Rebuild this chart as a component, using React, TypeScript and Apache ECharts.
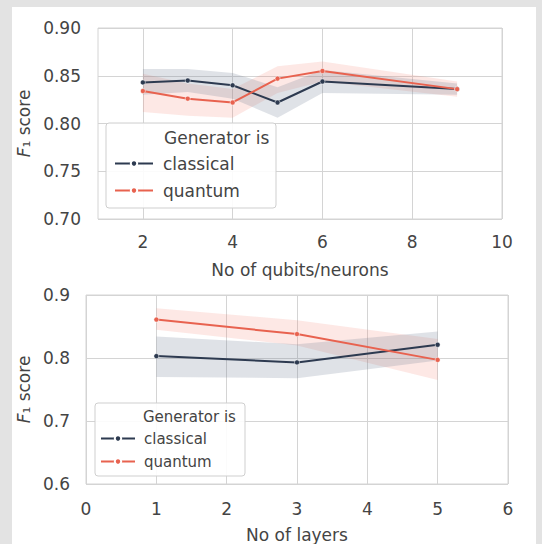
import React, { useEffect, useRef } from "react";
import * as echarts from "echarts";

// Top panel: F1 vs number of qubits/neurons
const topX = [2, 3, 4, 5, 6, 9];
const topClassical = [0.843, 0.845, 0.840, 0.822, 0.844, 0.836];
const topClassicalLo = [0.830, 0.833, 0.826, 0.806, 0.832, 0.830];
const topClassicalHi = [0.857, 0.857, 0.853, 0.838, 0.856, 0.842];
const topQuantum = [0.834, 0.826, 0.822, 0.847, 0.855, 0.836];
const topQuantumLo = [0.812, 0.808, 0.806, 0.832, 0.844, 0.828];
const topQuantumHi = [0.852, 0.842, 0.836, 0.860, 0.865, 0.844];
const topXTicks = [2, 4, 6, 8, 10];

// Bottom panel: F1 vs number of layers
const botX = [1, 3, 5];
const botClassical = [0.803, 0.793, 0.821];
const botClassicalLo = [0.770, 0.768, 0.796];
const botClassicalHi = [0.834, 0.822, 0.842];
const botQuantum = [0.861, 0.838, 0.797];
const botQuantumLo = [0.845, 0.820, 0.765];
const botQuantumHi = [0.879, 0.860, 0.830];

const seriesNames = ["classical", "quantum"];
const legendTitle = "Generator is";

const C_CLASSICAL = "#2d3a50";
const C_QUANTUM = "#e8624f";
const BAND_CLASSICAL = "rgba(110,122,145,0.22)";
const BAND_QUANTUM = "rgba(240,110,95,0.16)";
const FONT = "DejaVu Sans";
const TXT = "#444";

function pairs(xs: number[], ys: number[]) {
  return xs.map((x, i) => [x, ys[i]]);
}

function band(name: string, idx: number, xs: number[], lo: number[], hi: number[], color: string) {
  return {
    type: "custom",
    name: name + "-band",
    xAxisIndex: idx,
    yAxisIndex: idx,
    data: xs.map((x, i) => [x, lo[i], hi[i]]),
    encode: { x: 0, y: [1, 2] },
    silent: true,
    clip: true,
    z: 1,
    renderItem: (params: any, api: any) => {
      if (params.dataIndex !== 0) return { type: "group", children: [] };
      const upper = xs.map((x, i) => api.coord([x, hi[i]]));
      const lower = xs.map((x, i) => api.coord([x, lo[i]])).reverse();
      return {
        type: "polygon",
        shape: { points: upper.concat(lower) },
        style: { fill: color },
      };
    },
  };
}

function mainLine(name: string, idx: number, xs: number[], ys: number[], color: string) {
  return {
    type: "line",
    name,
    xAxisIndex: idx,
    yAxisIndex: idx,
    data: pairs(xs, ys),
    symbol: "circle",
    symbolSize: 5,
    showSymbol: true,
    lineStyle: { color, width: 2 },
    itemStyle: { color, borderColor: "#fff", borderWidth: 0.5 },
    z: 3,
  };
}

export default function App() {
  const ref = useRef<HTMLDivElement>(null);
  useEffect(() => {
    if (!ref.current) return;
    const chart = echarts.init(ref.current, null, { renderer: "svg" });
    const axisCommon = {
      axisLine: { show: false },
      axisTick: { show: false },
      splitLine: { show: true, lineStyle: { color: "#d4d4d4", width: 1 } },
    };
    const labelStyle = { color: TXT, fontFamily: FONT, fontSize: 17 };
    const yName = "{f|F}₁ score";
    const yNameStyle = {
      color: TXT,
      fontFamily: FONT,
      fontSize: 17,
      rich: { f: { fontStyle: "italic", fontFamily: FONT, fontSize: 17, color: TXT } },
    };
    chart.setOption({
      animation: false,
      backgroundColor: "#e3e3e3",
      textStyle: { fontFamily: FONT },
      graphic: [
        { type: "rect", shape: { x: 12, y: 7, width: 524, height: 537 }, style: { fill: "#ffffff" }, z: -10 },
        { type: "rect", shape: { x: 106, y: 123, width: 170, height: 85, r: 3 }, style: { fill: "rgba(255,255,255,0.9)", stroke: "#cfcfcf", lineWidth: 1 }, z: 5 },
        { type: "text", x: 164, y: 138, style: { text: legendTitle, fill: TXT, font: `17px "${FONT}"`, textVerticalAlign: "middle" }, z: 6 },
        { type: "rect", shape: { x: 95, y: 403, width: 150, height: 73, r: 3 }, style: { fill: "rgba(255,255,255,0.9)", stroke: "#cfcfcf", lineWidth: 1 }, z: 5 },
        { type: "text", x: 143, y: 417, style: { text: legendTitle, fill: TXT, font: `15px "${FONT}"`, textVerticalAlign: "middle" }, z: 6 },
      ],
      legend: [
        {
          data: seriesNames,
          orient: "vertical",
          left: 114,
          top: 155,
          itemWidth: 38,
          itemHeight: 8,
          itemGap: 10,
          padding: 0,
          textStyle: { color: TXT, fontFamily: FONT, fontSize: 17, padding: [0, 0, 0, 5] },
          z: 7,
        },
        {
          data: seriesNames,
          orient: "vertical",
          left: 100,
          top: 431,
          itemWidth: 34,
          itemHeight: 8,
          itemGap: 8,
          padding: 0,
          textStyle: { color: TXT, fontFamily: FONT, fontSize: 15, padding: [0, 0, 0, 4] },
          z: 7,
        },
      ],
      grid: [
        { left: 98, top: 28, width: 404, height: 191, show: true, borderColor: "#d4d4d4", borderWidth: 1, backgroundColor: "#fff" },
        { left: 86, top: 295, width: 422, height: 189, show: true, borderColor: "#d4d4d4", borderWidth: 1, backgroundColor: "#fff" },
      ],
      xAxis: [
        {
          type: "value",
          gridIndex: 0,
          min: 1,
          max: 10,
          ...axisCommon,
          axisTick: { show: false, customValues: topXTicks },
          axisLabel: { ...labelStyle, margin: 14, customValues: topXTicks },
          name: "No of qubits/neurons",
          nameLocation: "middle",
          nameGap: 42,
          nameTextStyle: { ...labelStyle, verticalAlign: "top" },
        },
        {
          type: "value",
          gridIndex: 1,
          min: 0,
          max: 6,
          interval: 1,
          ...axisCommon,
          axisLabel: { ...labelStyle, margin: 16 },
          name: "No of layers",
          nameLocation: "middle",
          nameGap: 42,
          nameTextStyle: { ...labelStyle, verticalAlign: "top" },
        },
      ],
      yAxis: [
        {
          type: "value",
          gridIndex: 0,
          min: 0.7,
          max: 0.9,
          interval: 0.05,
          ...axisCommon,
          axisLabel: { ...labelStyle, margin: 17, formatter: (v: number) => v.toFixed(2) },
          name: yName,
          nameLocation: "middle",
          nameRotate: 90,
          nameGap: 64,
          nameTextStyle: yNameStyle,
        },
        {
          type: "value",
          gridIndex: 1,
          min: 0.6,
          max: 0.9,
          interval: 0.1,
          ...axisCommon,
          axisLabel: { ...labelStyle, margin: 16, formatter: (v: number) => v.toFixed(1) },
          name: yName,
          nameLocation: "middle",
          nameRotate: 90,
          nameGap: 52,
          nameTextStyle: yNameStyle,
        },
      ],
      series: [
        band("quantum", 0, topX, topQuantumLo, topQuantumHi, BAND_QUANTUM),
        band("classical", 0, topX, topClassicalLo, topClassicalHi, BAND_CLASSICAL),
        mainLine("classical", 0, topX, topClassical, C_CLASSICAL),
        mainLine("quantum", 0, topX, topQuantum, C_QUANTUM),
        band("quantum", 1, botX, botQuantumLo, botQuantumHi, BAND_QUANTUM),
        band("classical", 1, botX, botClassicalLo, botClassicalHi, BAND_CLASSICAL),
        mainLine("classical", 1, botX, botClassical, C_CLASSICAL),
        mainLine("quantum", 1, botX, botQuantum, C_QUANTUM),
      ],
    });
    return () => chart.dispose();
  }, []);
  return (
    <div style={{ position: "absolute", left: 0, top: 0, width: 542, height: 544 }}>
      <div ref={ref} style={{ width: 542, height: 544 }} />
    </div>
  );
}
